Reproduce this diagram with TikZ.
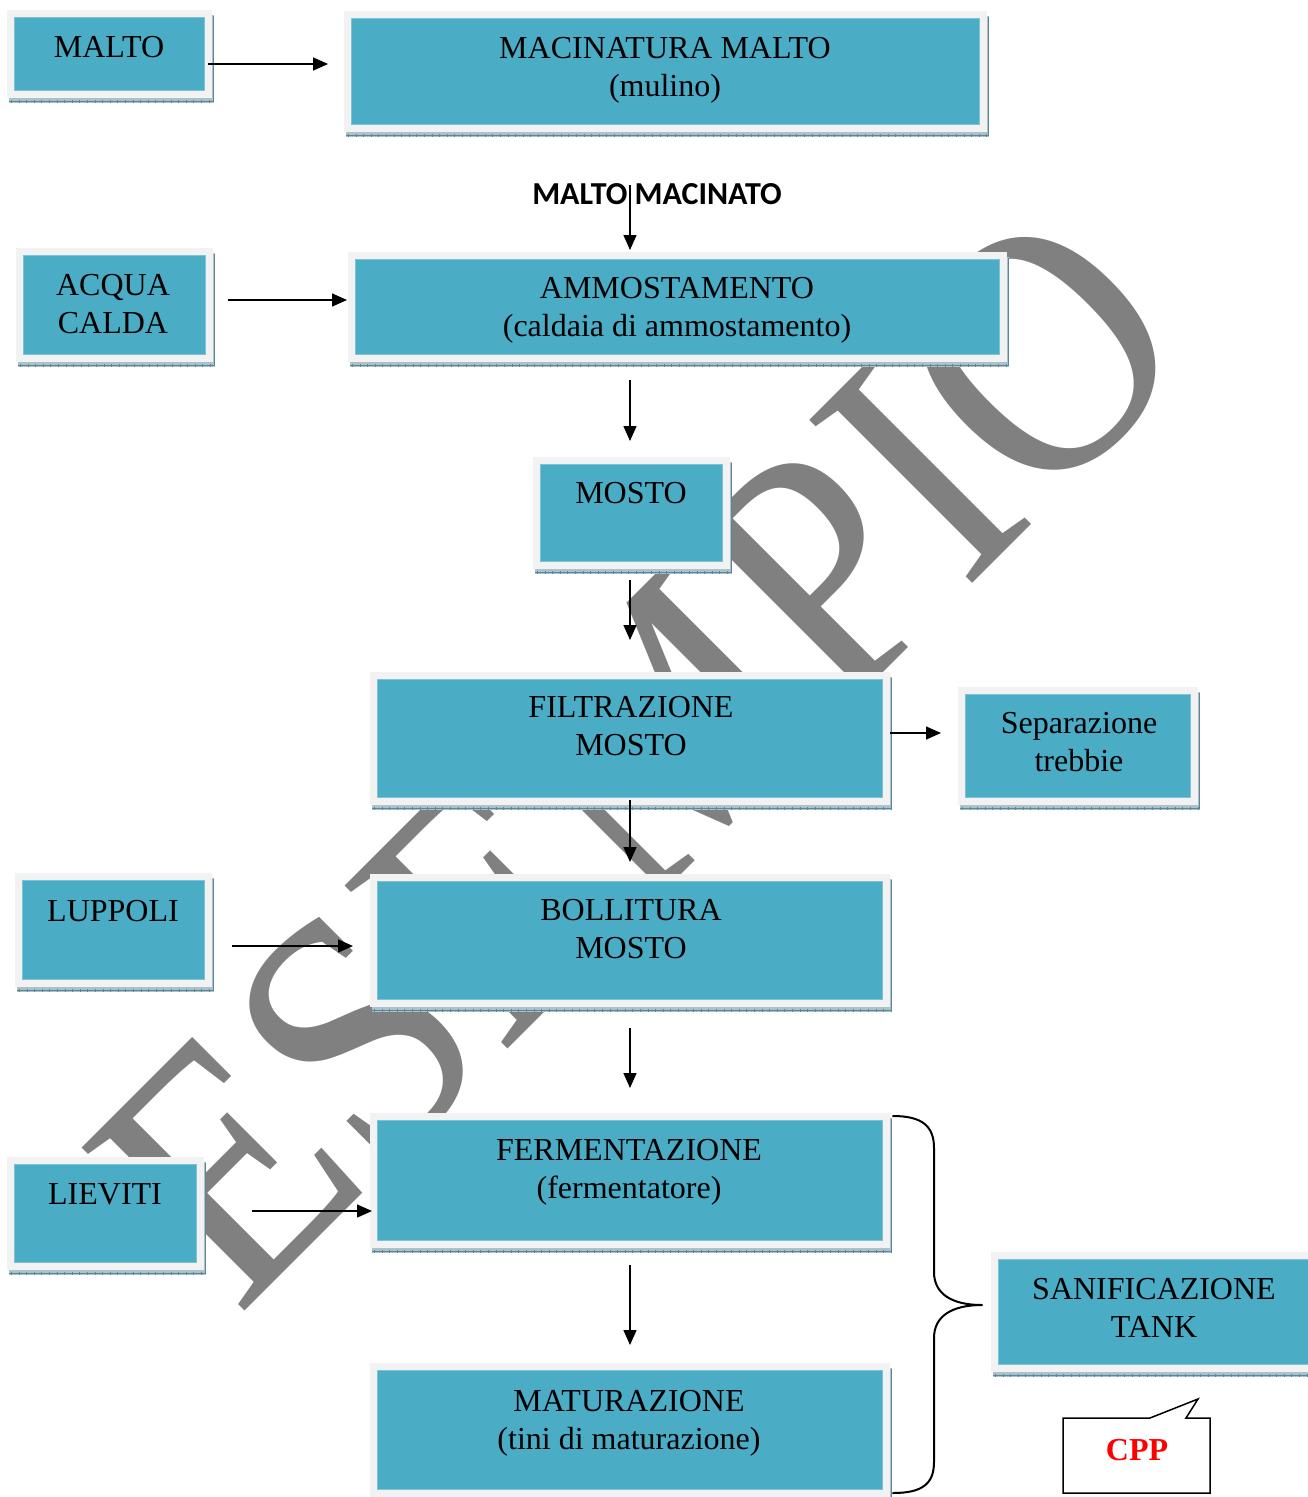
\documentclass[tikz,border=0pt]{standalone}
\usepackage{fontspec}
\setmainfont{Liberation Serif}
\newfontfamily\calibrifont{Carlito}
\usetikzlibrary{arrows.meta,calc,fit}
\definecolor{tealbox}{HTML}{4BACC6}
\definecolor{tealedge}{HTML}{7CC3D7}
\definecolor{framegray}{HTML}{F2F2F2}
\definecolor{shadowc}{HTML}{A9C2CB}
\definecolor{shadowtick}{HTML}{5E8593}
\definecolor{wmgray}{HTML}{808080}
\definecolor{cppred}{HTML}{FF0000}
\tikzset{
  framebox/.style={fill=framegray,draw=none,inner sep=0pt,outer sep=0pt},
  lbl/.style={font=\fontsize{32}{38}\selectfont,align=center,inner sep=0pt,anchor=north},
  arr/.style={line width=1.5pt,-{Triangle[length=15pt,width=13pt]}},
  bracestyle/.style={line width=2pt,line cap=round,line join=round},
}
\newcommand\procbox[5]{%
  \fill[shadowc] (#2+2,#3+5) rectangle (#4+2,#5+5);
  \draw[shadowtick,line width=0.5pt] (#2+2,#5+3) -- (#4+2,#5+3);
  \draw[shadowtick,line width=3pt,dash pattern=on 0.6pt off 7pt] (#2+4,#5+3) -- (#4+2,#5+3);
  \draw[shadowtick,line width=0.5pt] (#4+1,#3+6) -- (#4+1,#5+3);
  \node[framebox,fit={(#2,#3) (#4,#5)}] (#1) {};
  \fill[tealbox,draw=tealedge,line width=0.8pt] (#2+7.5,#3+7.5) rectangle (#4-7.5,#5-7.5);
}
\begin{document}
\begin{tikzpicture}[x=1pt,y=-1pt]
\useasboundingbox (0,0) rectangle (1308,1497);
\clip (0,0) rectangle (1308,1497);
\fill[white] (0,0) rectangle (1308,1497);

% watermark
\node[rotate=45,anchor=base west,inner sep=0pt,text=wmgray,font=\fontsize{352}{352}\selectfont] (wm) at (238,1318) {\scalebox{0.905}[1]{ESEMPIO}};

% boxes
\procbox{malto}{7}{10}{212}{98}
\procbox{macin}{344}{11}{987}{132}
\procbox{acqua}{16}{248}{213}{362}
\procbox{ammo}{348}{252}{1007}{362}
\procbox{mosto}{533}{457}{730}{569}
\procbox{filt}{370}{672}{890}{805}
\procbox{sep}{958}{687}{1198}{805}
\procbox{lupp}{15}{873}{212}{987}
\procbox{boll}{370}{874}{890}{1007}
\procbox{liev}{7}{1157}{204}{1270}
\procbox{ferm}{370}{1113}{890}{1248}
\procbox{sanif}{991}{1252}{1330}{1372}
\procbox{matur}{370}{1363}{890}{1497}

% labels
\node[lbl] (t-malto) at (109,57-26.6) {\strut MALTO};
\node[lbl] (t-macin) at (665,58-26.6) {\strut MACINATURA MALTO\\(mulino)};
\node[lbl] (t-acqua) at (113,295-26.6) {\strut ACQUA\\CALDA};
\node[lbl] (t-ammo) at (677,298-26.6) {\strut AMMOSTAMENTO\\(caldaia di ammostamento)};
\node[lbl] (t-mosto) at (631,503-26.6) {\strut MOSTO};
\node[lbl] (t-filt) at (631,717-26.6) {\strut FILTRAZIONE\\MOSTO};
\node[lbl] (t-sep) at (1079,733-26.6) {\strut Separazione\\trebbie};
\node[lbl] (t-lupp) at (113,921-26.6) {\strut LUPPOLI};
\node[lbl] (t-boll) at (631,920-26.6) {\strut BOLLITURA\\MOSTO};
\node[lbl] (t-liev) at (105,1204-26.6) {\strut LIEVITI};
\node[lbl] (t-ferm) at (629,1160-26.6) {\strut FERMENTAZIONE\\(fermentatore)};
\node[lbl] (t-sanif) at (1154,1299-26.6) {\strut SANIFICAZIONE\\TANK};
\node[lbl] (t-matur) at (629,1411-26.6) {\strut MATURAZIONE\\(tini di maturazione)};
\node[font=\calibrifont\bfseries\fontsize{32}{38}\selectfont,inner sep=0pt,anchor=base] (mm) at (657,204) {MALTO MACINATO};

% arrows
\draw[arr] ($(malto.east)+(-4,10)$) -- ($(macin.west)+(-16,-7.5)$);
\draw[arr] ($(mm.base)+(-27,-19)$) -- ($(ammo.north)+(-47.5,-2)$);
\draw[arr] ($(acqua.east)+(15,-5)$) -- ($(ammo.west)+(-1,-7)$);
\draw[arr] ($(ammo.south)+(-47.5,18)$) -- ($(mosto.north)+(-1.5,-16)$);
\draw[arr] ($(mosto.south)+(-1.5,11)$) -- ($(filt.north)+(0,-32)$);
\draw[arr] ($(filt.east)+(0,-5.5)$) -- ($(sep.west)+(-17,-13)$);
\draw[arr] ($(filt.south)+(0,-5)$) -- ($(boll.north)+(0,-12)$);
\draw[arr] ($(lupp.east)+(20,16)$) -- ($(boll.west)+(-17,5.5)$);
\draw[arr] ($(boll.south)+(0,21)$) -- ($(ferm.north)+(0,-25)$);
\draw[arr] ($(liev.east)+(48,-2.5)$) -- ($(ferm.west)+(2,30.5)$);
\draw[arr] ($(ferm.south)+(0,17)$) -- ($(matur.north)+(0,-18)$);

% brace
\draw[bracestyle] (893,1116) .. controls (922,1116) and (934,1126) .. (934,1148)
  -- (934,1272) .. controls (934,1294) and (952,1305) .. (982,1305)
  .. controls (952,1305) and (934,1316) .. (934,1338)
  -- (934,1462) .. controls (934,1484) and (922,1493) .. (893,1493);

% CPP callout
\draw[line width=1.5pt,line join=miter] (1063,1418) -- (1150,1418) -- (1198,1399) -- (1186,1418) -- (1210,1418) -- (1210,1493) -- (1063,1493) -- cycle;
\node[text=cppred,font=\bfseries\fontsize{32}{38}\selectfont,inner sep=0pt,anchor=base] (cpp) at (1137,1460) {CPP};
\end{tikzpicture}
\end{document}
